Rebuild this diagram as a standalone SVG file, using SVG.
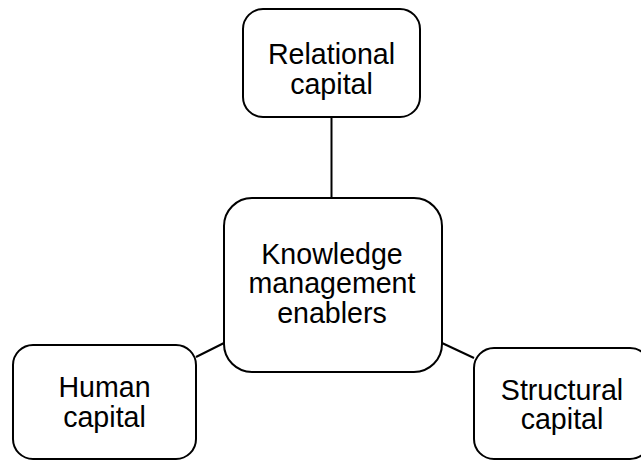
<svg xmlns="http://www.w3.org/2000/svg" width="641" height="461" viewBox="0 0 641 461">
<style>
.box{fill:#fff;stroke:#000;stroke-width:2}
.lbl{font-family:"Liberation Sans",Arial,sans-serif;font-size:28.6px;fill:#000;text-anchor:middle}
.conn{stroke:#000;stroke-width:2;fill:none}
</style>
<rect width="641" height="461" fill="#fff"/>
<g id="connectors">
<line class="conn" x1="331.5" y1="117" x2="331.5" y2="198"/>
<line class="conn" x1="196" y1="357" x2="224" y2="343"/>
<line class="conn" x1="442" y1="343" x2="474" y2="358"/>
</g>
<g id="relational">
<rect class="box" x="243" y="9" width="177" height="108" rx="20"/>
<text class="lbl" x="331.5" y="64">Relational</text>
<text class="lbl" x="331.5" y="93.5">capital</text>
</g>
<g id="knowledge">
<rect class="box" x="224" y="198" width="218" height="174" rx="28"/>
<text class="lbl" x="332" y="263.5">Knowledge</text>
<text class="lbl" x="332" y="293">management</text>
<text class="lbl" x="332" y="322.5">enablers</text>
</g>
<g id="human">
<rect class="box" x="13" y="345" width="183" height="114" rx="20"/>
<text class="lbl" x="104.5" y="397">Human</text>
<text class="lbl" x="104.5" y="427">capital</text>
</g>
<g id="structural">
<rect class="box" x="474" y="348" width="176" height="111" rx="20"/>
<text class="lbl" x="562" y="400">Structural</text>
<text class="lbl" x="562" y="429">capital</text>
</g>
</svg>
